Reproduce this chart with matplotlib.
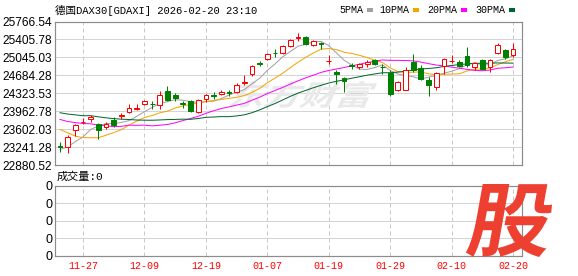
import matplotlib
matplotlib.use("Agg")
import matplotlib.pyplot as plt
import numpy as np
import pandas as pd
from matplotlib.patches import Rectangle, PathPatch
from matplotlib.textpath import TextPath
from matplotlib.font_manager import FontProperties
from matplotlib.path import Path
from matplotlib.transforms import IdentityTransform

# closes before the first visible candle, needed for the moving averages
prior_close = [24237, 24181, 24272, 23830, 24259, 24330, 24151, 24207, 24240, 24309,
               24278, 24124, 24118, 23958, 24132, 23949, 24049, 23734, 23569, 24088,
               24088, 24381, 24041, 23877, 23590, 23180, 23162, 23278, 23091]

opens = [23270, 23243, 23578, 23738, 23799, 23698, 23638, 23793, 23859, 23945,
         24016, 24106, 24114, 24080, 24361, 24295, 24120, 24160, 23945, 24206,
         24285, 24307, 24341, 24351, 24526, 24702, 24923, 25004, 25134, 25138,
         25265, 25433, 25451, 25299, 25325, 24967, 24749, 24636, 24883, 24843,
         24903, 24998, 24855, 24722, 24381, 24395, 24949, 24837, 24596, 24447,
         24863, 24963, 24953, 25064, 24843, 24983, 24849, 25130, 25198, 25090]
highs = [23343, 23477, 23708, 23819, 23879, 23728, 23744, 23845, 23919, 24100,
         24114, 24180, 24166, 24361, 24475, 24327, 24166, 24180, 24214, 24315,
         24347, 24381, 24381, 24528, 24682, 24897, 24969, 25138, 25218, 25285,
         25419, 25532, 25471, 25399, 25359, 25084, 24783, 24648, 24929, 24937,
         24983, 25018, 24917, 24783, 24568, 24849, 25104, 24883, 24648, 24749,
         25024, 25084, 24998, 25244, 24949, 25018, 25018, 25331, 25218, 25339]
lows = [23142, 23122, 23457, 23698, 23744, 23411, 23612, 23644, 23813, 23925,
        23979, 24094, 24014, 24014, 24166, 24166, 24026, 23939, 23925, 24146,
        24214, 24281, 24267, 24335, 24481, 24662, 24863, 24983, 25050, 25118,
        25250, 25371, 25285, 25265, 25218, 24917, 24516, 24347, 24817, 24817,
        24849, 24883, 24716, 24261, 24361, 24381, 24747, 24582, 24261, 24395,
        24716, 24923, 24849, 24849, 24783, 24783, 24749, 25104, 25018, 25050]
closes = [23250, 23443, 23692, 23751, 23845, 23592, 23698, 23678, 23879, 24020,
          24030, 24160, 24100, 24295, 24180, 24234, 24108, 23965, 24194, 24281,
          24275, 24355, 24329, 24481, 24542, 24863, 24911, 25118, 25124, 25265,
          25399, 25445, 25305, 25365, 25313, 24977, 24716, 24568, 24871, 24909,
          24949, 24903, 24843, 24307, 24548, 24797, 24783, 24616, 24491, 24728,
          25018, 24977, 24873, 24883, 24923, 24813, 24998, 25295, 25050, 25218]

holidays = ['2025-12-24', '2025-12-25', '2025-12-26', '2025-12-31', '2026-01-01']
tick_dates = ['11-27', '12-09', '12-19', '01-07', '01-19', '01-29', '02-10', '02-20']
ytick_vals = [22880.52, 23241.28, 23602.03, 23962.78, 24323.53, 24684.28, 25045.03, 25405.78, 25766.54]

ma_periods = [5, 10, 20, 30]
ma_names = ['5PMA', '10PMA', '20PMA', '30PMA']
ma_colors = ['#a0a0a0', '#f5a300', '#ff00ff', '#00662e']

dates = pd.bdate_range('2025-11-24', '2026-02-20')
dates = dates[~dates.isin(pd.to_datetime(holidays))]
labels = dates.strftime('%m-%d')
n = len(closes)
idx = np.arange(n)

W, H = 578, 276
fig = plt.figure(figsize=(W / 100, H / 100), dpi=100)
fig.patch.set_facecolor('white')

def fx(px):
    return px / W

def fy(py):
    return 1 - py / H

ax = fig.add_axes([fx(55), fy(165), fx(522) - fx(55), fy(21.5) - fy(165)])
axv = fig.add_axes([fx(55), fy(255.7), fx(522) - fx(55), fy(186) - fy(255.7)])

px = 0.72
tick_pos = [i for i in idx if labels[i] in tick_dates]

for a in (ax, axv):
    a.set_xlim(-0.65, 60.17)
    for sp in a.spines.values():
        sp.set_color('#8c8c8c')
        sp.set_linewidth(1.2 * px)
    for t in tick_pos:
        a.axvline(t, color='#c8c8c8', lw=px, ls=(0, (4, 3)), zorder=0)
    a.tick_params(length=0)

# price panel
ax.set_ylim(ytick_vals[0], ytick_vals[-1])
for v in ytick_vals:
    ax.axhline(v, color='#d4d4d4', lw=px, zorder=0)
ax.set_yticks(ytick_vals)
ax.set_yticklabels(['%.2f' % v for v in ytick_vals], family='Liberation Sans', fontsize=8.6)
ax.tick_params(axis='y', pad=2)
ax.set_xticks([])

red, green = '#ff0000', '#008000'
bw = 0.62
for i in idx:
    o, h, l, c = opens[i], highs[i], lows[i], closes[i]
    up = c >= o
    col = red if up else green
    ax.vlines(i, l, h, color=col, lw=px, zorder=3)
    bottom = min(o, c)
    height = max(abs(c - o), 1.0)
    ax.add_patch(Rectangle((i - bw / 2, bottom), bw, height,
                           facecolor='white' if up else green, edgecolor=col,
                           lw=px, zorder=4))

full = pd.Series(prior_close + closes, dtype=float)
for p, col in zip(ma_periods, ma_colors):
    ma = full.rolling(p).mean().to_numpy()[len(prior_close):]
    ax.plot(idx, ma, color=col, lw=1.0 * px, zorder=2)

# watermark
def glyph_patch(s, box, color, shear=0.0, weight='bold', z=1):
    tp = TextPath((0, 0), s, size=100, prop=FontProperties(family='Noto Sans CJK SC', weight=weight))
    b = tp.get_extents()
    v = tp.vertices.copy()
    u = (v[:, 0] - b.x0) / b.width
    w = (v[:, 1] - b.y0) / b.height
    u = u * (1 - shear) + shear * w
    left, top, right, bot = box
    X = left + u * (right - left)
    Y = (H - bot) + w * (bot - top)
    return PathPatch(Path(np.column_stack([X, Y]), tp.codes), transform=IdentityTransform(),
                     facecolor=color, edgecolor='none', zorder=z)

ax.add_patch(glyph_patch('东方财富', (228, 81, 378, 108), '#e9e9e9', shear=0.08))

# volume panel
axv.set_ylim(0, 4)
for v in range(5):
    axv.axhline(v, color='#d4d4d4', lw=px, zorder=0)
axv.set_yticks(range(5))
axv.set_yticklabels(['0'] * 5, family='Liberation Sans', fontsize=9)
axv.tick_params(axis='y', pad=2)
axv.set_xticks(tick_pos)
axv.set_xticklabels([labels[i] for i in tick_pos], family='Liberation Mono',
                    fontsize=7.2, color='red')
axv.tick_params(axis='x', pad=4)

hdr = ['Liberation Mono', 'Noto Sans CJK SC']
fig.text(fx(55), fy(10), '德国DAX30[GDAXI] 2026-02-20 23:10', family=hdr,
         fontsize=7.6, va='center', ha='left')
fig.text(fx(57), fy(177), '成交量:0', family=hdr, fontsize=8, va='center', ha='left')

leg_x = [339, 379, 427, 475]
for x0, name, col in zip(leg_x, ma_names, ma_colors):
    t = fig.text(fx(x0), fy(10), name, family='Liberation Mono', fontsize=7.2,
                 va='center', ha='left')
    fig.patches.append(Rectangle((fx(x0 + len(name) * 6 + 4), fy(12)), fx(6), fy(8) - fy(12),
                                 transform=fig.transFigure, facecolor=col, edgecolor='none'))

fig.add_artist(glyph_patch('股', (465, 184, 558, 257), '#ee4030', shear=0.14, weight='heavy', z=10))

fig.savefig('out.png', dpi=100)
